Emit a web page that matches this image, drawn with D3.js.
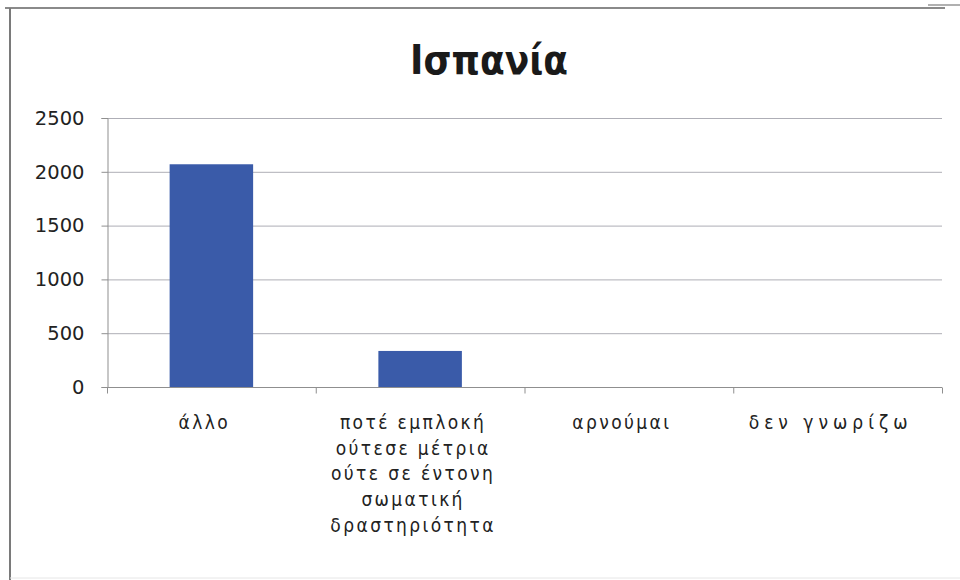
<!DOCTYPE html>
<html>
<head>
<meta charset="utf-8">
<script src="https://cdn.jsdelivr.net/npm/d3@7"></script>
<style>
  html, body { margin: 0; padding: 0; background: #fff; }
  svg { display: block; }
</style>
</head>
<body>
<svg id="chart" width="960" height="580"></svg>
<script>
// Chart data
const title = "Ισπανία";
const categories = ["άλλο", "ποτέ εμπλοκή", "αρνούμαι", "δεν γνωρίζω"];
const categoryLines = [
  ["άλλο"],
  ["ποτέ εμπλοκή", "ούτεσε μέτρια", "ούτε σε έντονη", "σωματική", "δραστηριότητα"],
  ["αρνούμαι"],
  ["δεν γνωρίζω"]
];
const values = [2070, 335, 0, 0];
const yTicks = [0, 500, 1000, 1500, 2000, 2500];

const svg = d3.select("#chart");
const plot = { left: 107, right: 942, top: 118, bottom: 387 };

// Frame around the chart
svg.append("line").attr("x1", 5).attr("x2", 945).attr("y1", 8).attr("y2", 8)
  .attr("stroke", "#8a8a8a").attr("stroke-width", 2);
svg.append("line").attr("x1", 928).attr("x2", 960).attr("y1", 5).attr("y2", 5)
  .attr("stroke", "#b0b0b0").attr("stroke-width", 2);
svg.append("line").attr("x1", 10).attr("x2", 10).attr("y1", 8).attr("y2", 580)
  .attr("stroke", "#7a7a7a").attr("stroke-width", 2);
svg.append("line").attr("x1", 10).attr("x2", 960).attr("y1", 578).attr("y2", 578)
  .attr("stroke", "#e6e6e6").attr("stroke-width", 1);

// Title
svg.append("text")
  .attr("x", 489).attr("y", 74)
  .attr("text-anchor", "middle")
  .attr("font-family", "'DejaVu Sans Condensed', 'DejaVu Sans', sans-serif")
  .attr("font-weight", "bold")
  .attr("font-size", 40)
  .attr("fill", "#1a1a1a")
  .text(title);

// Scales
const x = d3.scaleBand().domain(categories).range([plot.left, plot.right]).padding(0);
const y = d3.scaleLinear().domain([0, 2500]).range([plot.bottom, plot.top]);

// Horizontal gridlines
svg.append("g").selectAll("line").data(yTicks.filter(d => d > 0)).join("line")
  .attr("x1", plot.left).attr("x2", plot.right)
  .attr("y1", d => y(d) + 0.5).attr("y2", d => y(d) + 0.5)
  .attr("stroke", "#aeaeb6").attr("stroke-width", 1);

// Y axis
const yAxis = svg.append("g")
  .attr("transform", `translate(${plot.left + 0.5},0)`)
  .call(d3.axisLeft(y).tickValues(yTicks).tickSize(6).tickPadding(17).tickFormat(d3.format("d")));
yAxis.select(".domain").attr("stroke", "#8f8f8f");
yAxis.selectAll(".tick line").attr("stroke", "#8f8f8f");
yAxis.selectAll(".tick text")
  .attr("font-family", "'DejaVu Sans', Verdana, sans-serif")
  .attr("font-size", 19.5)
  .attr("fill", "#222");

// Bars
const barW = x.bandwidth() * 0.4;
svg.append("g").selectAll("rect").data(values).join("rect")
  .attr("x", (d, i) => x(categories[i]) + x.bandwidth() / 2 - barW / 2)
  .attr("y", d => y(d))
  .attr("width", barW)
  .attr("height", d => y(0) - y(d))
  .attr("fill", "#3a5ba9");

// X axis with ticks at category boundaries
const xAxisG = svg.append("g").attr("transform", `translate(0,${plot.bottom + 0.5})`);
xAxisG.append("line").attr("x1", plot.left).attr("x2", plot.right)
  .attr("stroke", "#8f8f8f");
const bounds = categories.map(c => x(c)).concat([plot.right]);
xAxisG.selectAll("line.tk").data(bounds).join("line").attr("class", "tk")
  .attr("x1", d => d + 0.5).attr("x2", d => d + 0.5)
  .attr("y1", 0).attr("y2", 6)
  .attr("stroke", "#8f8f8f");

// Category labels
const spacing = [2.4, 2.4, 2.4, 5];
const labels = svg.append("g");
categoryLines.forEach((lines, i) => {
  const cx = x(categories[i]) + x.bandwidth() / 2 - 7;
  const t = labels.append("text")
    .attr("text-anchor", "middle")
    .attr("font-family", "'DejaVu Sans Condensed', 'DejaVu Sans', sans-serif")
    .attr("font-size", 19)
    .attr("letter-spacing", spacing[i])
    .attr("fill", "#222");
  lines.forEach((ln, j) => {
    t.append("tspan").attr("x", cx).attr("y", 429 + j * 25.7).text(ln);
  });
});
</script>
</body>
</html>
